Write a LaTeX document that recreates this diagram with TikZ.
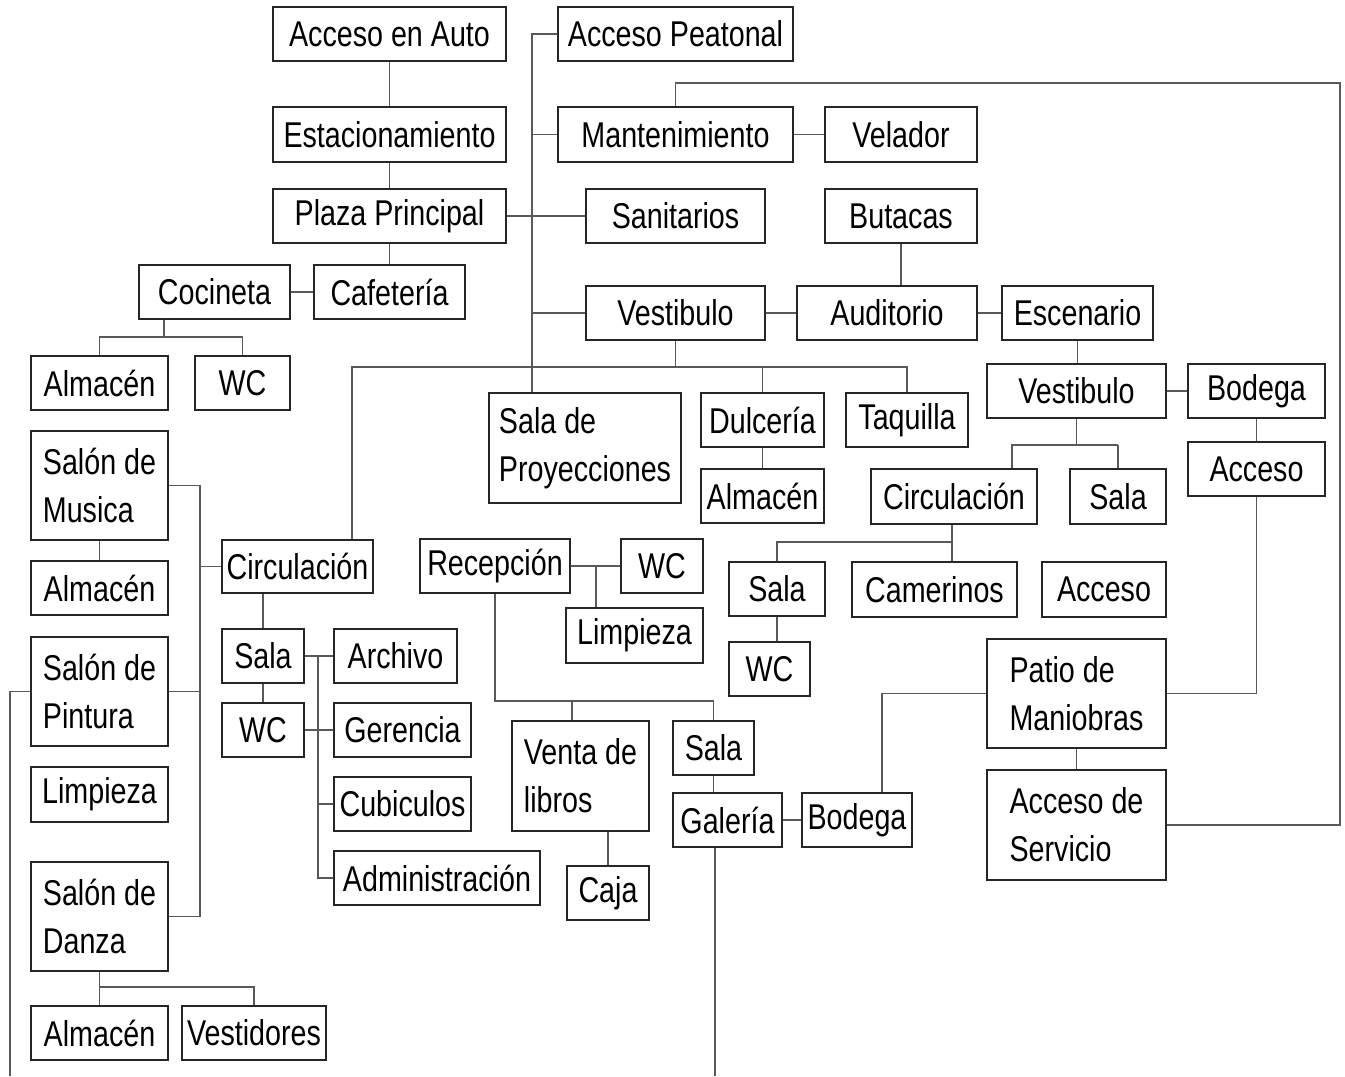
\documentclass[tikz,border=0pt]{standalone}
\usepackage{fontspec}
\setmainfont{Liberation Sans}[FakeStretch=0.8]
\begin{document}
\begin{tikzpicture}[x=0.02cm,y=-0.02cm,
  box/.style={draw=black!85,line width=0.8pt,inner sep=0pt,align=left,
    font=\fontsize{20.4pt}{27.3pt}\selectfont},
  sz/.style 2 args={minimum width=#1*0.02cm,minimum height=#2*0.02cm},
  link/.style={draw=black!65,line width=0.7pt}]
\useasboundingbox[fill=white] (0,0) rectangle (1345,1076);
\node[box,sz={233}{54}] (auto) at (389.5,34) {Acceso en Auto};
\node[box,sz={233}{55}] (estac) at (389.5,134.5) {Estacionamiento};
\node[box,sz={233}{54}] (plaza) at (389.5,216) {Plaza Principal};
\node[box,sz={151}{54}] (cafe) at (389.5,292) {Cafetería};
\node[box,sz={151}{54}] (cocina) at (214.5,292) {Cocineta};
\node[box,sz={137}{54}] (almc) at (99.5,383) {Almacén};
\node[box,sz={95}{54}] (wcc) at (242.5,383) {WC};
\node[box,sz={235}{54}] (peat) at (675.5,34) {Acceso Peatonal};
\node[box,sz={235}{55}] (mant) at (675.5,134.5) {Mantenimiento};
\node[box,sz={152}{55}] (velad) at (901,134.5) {Velador};
\node[box,sz={179}{54}] (sanit) at (675.5,216) {Sanitarios};
\node[box,sz={152}{54}] (butac) at (901,216) {Butacas};
\node[box,sz={179}{54}] (vest) at (675.5,313) {Vestibulo};
\node[box,sz={180}{54}] (audit) at (887,313) {Auditorio};
\node[box,sz={151}{54}] (escen) at (1077.5,313) {Escenario};
\node[box,sz={192}{110}] (proy) at (585,448) {Sala de\\Proyecciones};
\node[box,sz={123}{54}] (dulce) at (762.5,420) {Dulcería};
\node[box,sz={123}{54}] (almd) at (762.5,496) {Almacén};
\node[box,sz={122}{54}] (taqu) at (907,420) {Taquilla};
\node[box,sz={179}{54}] (vestesc) at (1076.5,391) {Vestibulo};
\node[box,sz={137}{54}] (bodesc) at (1256.5,391) {Bodega};
\node[box,sz={137}{54}] (accesc) at (1256.5,469) {Acceso};
\node[box,sz={166}{55}] (circesc) at (954,496.5) {Circulación};
\node[box,sz={96}{55}] (salaesc) at (1118,496.5) {Sala};
\node[box,sz={96}{54}] (salacam) at (777,589) {Sala};
\node[box,sz={165}{55}] (camer) at (934.5,589.5) {Camerinos};
\node[box,sz={124}{55}] (accmid) at (1104,589.5) {Acceso};
\node[box,sz={81}{54}] (wccam) at (769.5,669) {WC};
\node[box,sz={179}{109}] (patio) at (1076.5,693.5) {Patio de\\Maniobras};
\node[box,sz={179}{110}] (accserv) at (1076.5,825) {Acceso de\\Servicio};
\node[box,sz={110}{54}] (bodgal) at (857,820) {Bodega};
\node[box,sz={109}{54}] (gal) at (727.5,820) {Galería};
\node[box,sz={81}{54}] (salagal) at (713.5,748) {Sala};
\node[box,sz={137}{110}] (venta) at (580.5,776) {Venta de\\libros};
\node[box,sz={82}{54}] (caja) at (608,893) {Caja};
\node[box,sz={150}{54}] (recep) at (495,566) {Recepción};
\node[box,sz={82}{54}] (wcrec) at (662,566) {WC};
\node[box,sz={137}{55}] (limprec) at (634.5,635.5) {Limpieza};
\node[box,sz={137}{109}] (musica) at (99.5,485.5) {Salón de\\Musica};
\node[box,sz={137}{54}] (almmus) at (99.5,588) {Almacén};
\node[box,sz={137}{109}] (pint) at (99.5,691.5) {Salón de\\Pintura};
\node[box,sz={137}{55}] (limptal) at (99.5,794.5) {Limpieza};
\node[box,sz={137}{109}] (danza) at (99.5,916.5) {Salón de\\Danza};
\node[box,sz={137}{54}] (almdan) at (99.5,1033) {Almacén};
\node[box,sz={144}{54}] (vestid) at (254,1033) {Vestidores};
\node[box,sz={151}{53}] (circadm) at (297.5,566.5) {Circulación};
\node[box,sz={82}{54}] (salaadm) at (263,656) {Sala};
\node[box,sz={82}{54}] (wcadm) at (263,730) {WC};
\node[box,sz={123}{54}] (archi) at (395.5,656) {Archivo};
\node[box,sz={137}{54}] (geren) at (402.5,730) {Gerencia};
\node[box,sz={137}{54}] (cubic) at (402.5,804) {Cubiculos};
\node[box,sz={206}{54}] (admin) at (437,878) {Administración};
\coordinate (jk) at (164,337);
\coordinate (sp) at (532,0);
\coordinate (hv) at (352,367);
\coordinate (je) at (1012,445);
\coordinate (jc) at (952,542);
\coordinate (jb) at (882,0);
\coordinate (gend) at (715,1076);
\coordinate (jr) at (572,701);
\coordinate (jw) at (596,0);
\coordinate (lp) at (1340,83);
\coordinate (bk) at (200,0);
\coordinate (pend) at (10,1076);
\coordinate (jd) at (0,987);
\coordinate (ja) at (318,0);
\draw[link] (auto) -- (estac);
\draw[link] (estac) -- (plaza);
\draw[link] (plaza) -- (cafe);
\draw[link] (cocina) -- (cafe);
\draw[link] (cocina.south -| jk) -- (jk) -| (almc.north);
\draw[link] (jk) -| (wcc.north);
\draw[link] (peat.west) -- (peat.west -| sp) -- (proy.north -| sp);
\draw[link] (mant.west) -- (mant.west -| sp);
\draw[link] (vest.west) -- (vest.west -| sp);
\draw[link] (plaza) -- (sanit);
\draw[link] (mant) -- (velad);
\draw[link] (butac.south) -- (butac.south |- audit.north);
\draw[link] (vest) -- (audit);
\draw[link] (audit) -- (escen);
\draw[link] (vest.south) -- (vest.south |- hv);
\draw[link] (circadm.north -| hv) -- (hv) -| (taqu.north);
\draw[link] (dulce.north |- hv) -- (dulce.north);
\draw[link] (dulce) -- (almd);
\draw[link] (escen.south) -- (escen.south |- vestesc.north);
\draw[link] (vestesc) -- (bodesc);
\draw[link] (bodesc) -- (accesc);
\draw[link] (vestesc.south) -- (vestesc.south |- je);
\draw[link] (je -| salaesc.north) -- (je) -- (je |- circesc.north);
\draw[link] (salaesc.north |- je) -- (salaesc.north);
\draw[link] (circesc.south -| jc) -- (camer.north -| jc);
\draw[link] (jc) -| (salacam.north);
\draw[link] (salacam.south) -- (salacam.south |- wccam.north);
\draw[link] (accesc.south) |- (patio.east);
\draw[link] (patio) -- (accserv);
\draw[link] (patio.west) -| (bodgal.north -| jb);
\draw[link] (gal) -- (bodgal);
\draw[link] (salagal.south) -- (salagal.south |- gal.north);
\draw[link] (gal.south -| gend) -- (gend);
\draw[link] (recep.south) |- (jr) -| (salagal.north);
\draw[link] (jr) -- (jr |- venta.north);
\draw[link] (recep) -- (wcrec);
\draw[link] (recep.east -| jw) -- (limprec.north -| jw);
\draw[link] (caja.north |- venta.south) -- (caja.north);
\draw[link] (mant.north) |- (lp) |- (accserv.east);
\draw[link] (musica.east) -| (danza.east -| bk) -- (danza.east);
\draw[link] (pint.east) -- (pint.east -| bk);
\draw[link] (circadm.west) -- (circadm.west -| bk);
\draw[link] (musica) -- (almmus);
\draw[link] (pint.west) -| (pend);
\draw[link] (danza) -- (almdan);
\draw[link] (danza.south |- jd) -| (vestid.north);
\draw[link] (salaadm.north |- circadm.south) -- (salaadm.north);
\draw[link] (salaadm) -- (wcadm);
\draw[link] (salaadm) -- (archi);
\draw[link] (salaadm.east -| ja) |- (admin.west);
\draw[link] (wcadm) -- (geren);
\draw[link] (cubic.west -| ja) -- (cubic.west);
\end{tikzpicture}
\end{document}
